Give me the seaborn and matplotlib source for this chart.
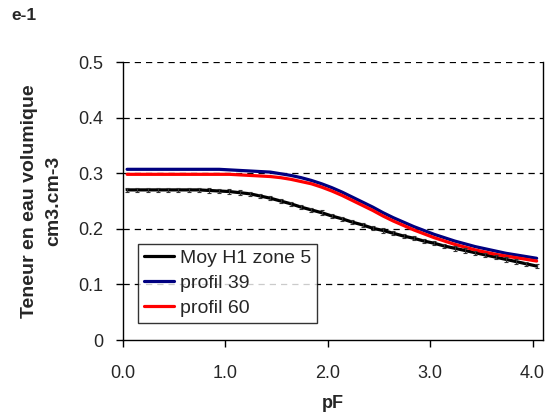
import numpy as np
import pandas as pd
import seaborn as sns
import matplotlib.pyplot as plt

# pF values (x axis)
pf = [0.04, 0.14, 0.24, 0.34, 0.44, 0.54, 0.64, 0.74, 0.84, 0.94,
      1.04, 1.14, 1.24, 1.34, 1.44, 1.54, 1.64, 1.74, 1.84, 1.94,
      2.04, 2.14, 2.24, 2.34, 2.44, 2.54, 2.64, 2.74, 2.84, 2.94,
      3.04, 3.14, 3.24, 3.34, 3.44, 3.54, 3.64, 3.74, 3.84, 3.94, 4.04]

moy_h1 = [0.270, 0.270, 0.270, 0.270, 0.270, 0.270, 0.270, 0.270, 0.269, 0.268,
          0.267, 0.265, 0.263, 0.259, 0.255, 0.250, 0.245, 0.239, 0.234, 0.229,
          0.223, 0.218, 0.212, 0.207, 0.201, 0.197, 0.192, 0.187, 0.183, 0.178,
          0.174, 0.169, 0.165, 0.161, 0.157, 0.153, 0.149, 0.145, 0.141, 0.137, 0.133]

moy_err = [0.004, 0.004, 0.004, 0.004, 0.004, 0.004, 0.004, 0.004, 0.004, 0.004,
           0.004, 0.004, 0.004, 0.004, 0.004, 0.004, 0.004, 0.004, 0.004, 0.004,
           0.004, 0.004, 0.004, 0.004, 0.004, 0.004, 0.004, 0.004, 0.004, 0.004,
           0.004, 0.004, 0.004, 0.004, 0.004, 0.004, 0.004, 0.004, 0.004, 0.004, 0.004]

profil_39 = [0.307, 0.307, 0.307, 0.307, 0.307, 0.307, 0.307, 0.307, 0.307, 0.307,
             0.306, 0.305, 0.304, 0.303, 0.302, 0.299, 0.296, 0.292, 0.287, 0.281,
             0.274, 0.266, 0.257, 0.248, 0.239, 0.229, 0.220, 0.212, 0.204, 0.197,
             0.190, 0.184, 0.178, 0.173, 0.168, 0.164, 0.160, 0.156, 0.153, 0.150, 0.147]

profil_60 = [0.298, 0.298, 0.298, 0.298, 0.298, 0.298, 0.298, 0.298, 0.298, 0.298,
             0.298, 0.297, 0.296, 0.295, 0.294, 0.292, 0.289, 0.285, 0.281, 0.275,
             0.268, 0.260, 0.251, 0.242, 0.233, 0.223, 0.214, 0.206, 0.198, 0.191,
             0.184, 0.178, 0.172, 0.167, 0.162, 0.158, 0.154, 0.151, 0.148, 0.145, 0.142]

x_ticks = [0.0, 1.0, 2.0, 3.0, 4.0]
x_labels = ['0.0', '1.0', '2.0', '3.0', '4.0']
y_ticks = [0.0, 0.1, 0.2, 0.3, 0.4, 0.5]
y_labels = ['0', '0.1', '0.2', '0.3', '0.4', '0.5']

sns.set_style('white')
plt.rcParams['font.family'] = ['Liberation Sans', 'DejaVu Sans']

df = pd.DataFrame({
    'pF': pf * 3,
    'theta': moy_h1 + profil_39 + profil_60,
    'serie': ['Moy H1 zone 5'] * len(pf) + ['profil 39'] * len(pf) + ['profil 60'] * len(pf),
})
palette = {'Moy H1 zone 5': 'black', 'profil 39': '#000080', 'profil 60': '#ff0000'}

fig = plt.figure(figsize=(5.55, 4.19), dpi=100)
ax = fig.add_axes([0.2216, 0.1885, 0.7564, 0.6635])

# horizontal dashed gridlines
for yv in y_ticks[1:]:
    ax.axhline(yv, color='black', linestyle=(0, (5, 4)), lw=0.9, zorder=0)

ax.errorbar(pf, moy_h1, yerr=moy_err, fmt='none', ecolor='#333333',
            elinewidth=0.8, capsize=1.5, capthick=0.8, zorder=4)
sns.lineplot(data=df, x='pF', y='theta', hue='serie', palette=palette,
             linewidth=2.3, ax=ax, zorder=3)

ax.set_xlim(0.0, 4.1)
ax.set_ylim(0.0, 0.5)
ax.set_xticks(x_ticks)
ax.set_xticklabels(x_labels)
ax.set_yticks(y_ticks)
ax.set_yticklabels(y_labels)
ax.tick_params(axis='both', direction='out', length=5, width=1, color='black',
               labelsize=13, bottom=True, left=True)
ax.tick_params(axis='x', pad=13)
ax.tick_params(axis='y', pad=9)

for side in ['left', 'bottom', 'right']:
    ax.spines[side].set_color('black')
    ax.spines[side].set_linewidth(1)
ax.spines['top'].set_visible(False)

ax.set_xlabel('pF', fontsize=13, fontweight='bold', labelpad=9)
ax.set_ylabel('Teneur en eau volumique\ncm3.cm-3', fontsize=14,
              fontweight='bold', labelpad=12, linespacing=1.5)

leg = ax.legend(loc='lower left', bbox_to_anchor=(0.036, 0.062), frameon=True,
                fancybox=False, edgecolor='black', fontsize=14,
                handlelength=1.55, handletextpad=0.3, borderpad=0.3,
                labelspacing=0.38, borderaxespad=0)
leg.get_frame().set_linewidth(1)
leg.set_title(None)

fig.text(0.02, 0.962, 'e-1', fontsize=12.5, fontweight='bold', va='center')

fig.savefig('out.png', dpi=100)
